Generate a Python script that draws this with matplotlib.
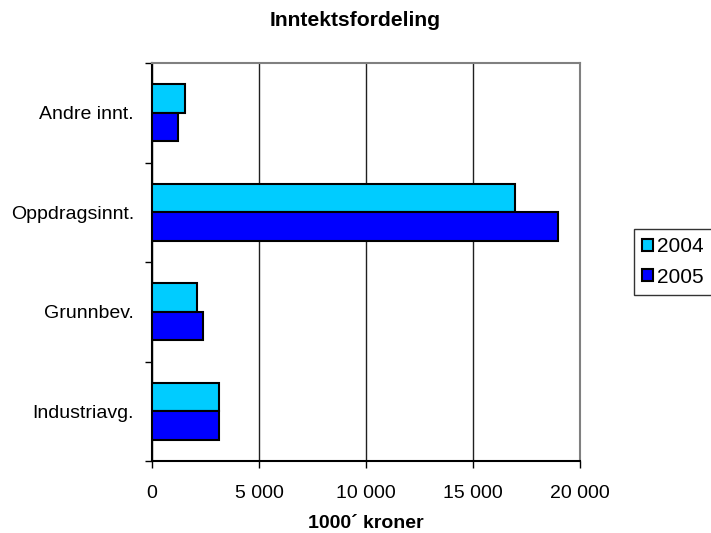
import matplotlib.pyplot as plt
import numpy as np
from matplotlib.ticker import FuncFormatter, FixedLocator

plt.rcParams['font.family'] = ['Liberation Sans', 'DejaVu Sans']

# income categories, bottom to top
categories = ['Industriavg.', 'Grunnbev.', 'Oppdragsinnt.', 'Andre innt.']
years = ['2004', '2005']
inntekt_2004 = [3120, 2090, 16980, 1540]
inntekt_2005 = [3120, 2370, 18960, 1210]
x_ticks = [0, 5000, 10000, 15000, 20000]

col_2004 = '#00CCFF'
col_2005 = '#0000FF'

fig = plt.figure(figsize=(7.11, 5.33), dpi=100)
ax = fig.add_axes([152/711, 1-461/533, 428/711, 398/533])

y = np.arange(len(categories))
h = 0.287
ax.barh(y + h/2, inntekt_2004, height=h, color=col_2004, edgecolor='black', linewidth=1.5, label=years[0], zorder=3)
ax.barh(y - h/2, inntekt_2005, height=h, color=col_2005, edgecolor='black', linewidth=1.5, label=years[1], zorder=3)

ax.set_xlim(0, 20000)
ax.set_ylim(-0.5, len(categories) - 0.5)

ax.xaxis.set_major_locator(FixedLocator(x_ticks))
ax.xaxis.set_major_formatter(FuncFormatter(lambda v, p: f'{int(v):,}'.replace(',', ' ')))
ax.tick_params(axis='x', direction='out', length=5, width=1, pad=12, labelsize=14)
ax.grid(axis='x', color='#202020', linewidth=1, zorder=0)

# category boundaries get ticks, names sit between them
ax.set_yticks(np.arange(-0.5, len(categories), 1.0))
ax.set_yticklabels([])
ax.set_yticks(y, minor=True)
ax.set_yticklabels(categories, minor=True)
ax.tick_params(axis='y', which='major', direction='out', length=5, width=1)
ax.tick_params(axis='y', which='minor', length=0, pad=13, labelsize=14)

ax.spines['left'].set_color('black')
ax.spines['bottom'].set_color('black')
ax.spines['top'].set_color('#808080')
ax.spines['right'].set_color('#808080')
for s in ax.spines.values():
    s.set_linewidth(1.5)

fig.text(366/711, 1-523/533, '1000´ kroner', ha='center', va='center', fontsize=14, fontweight='bold')
fig.text(0.5, 1-21/533, 'Inntektsfordeling', ha='center', va='center', fontsize=15.2, fontweight='bold')

leg = fig.legend(loc='center left', bbox_to_anchor=(634/711, 1-262/533), fontsize=15,
                 frameon=True, fancybox=False, edgecolor='black', handlelength=0.5,
                 handleheight=0.5, handletextpad=0.2, borderpad=0.4, labelspacing=0.55,
                 borderaxespad=0)
leg.get_frame().set_linewidth(1)

fig.savefig('out.png', dpi=100)
